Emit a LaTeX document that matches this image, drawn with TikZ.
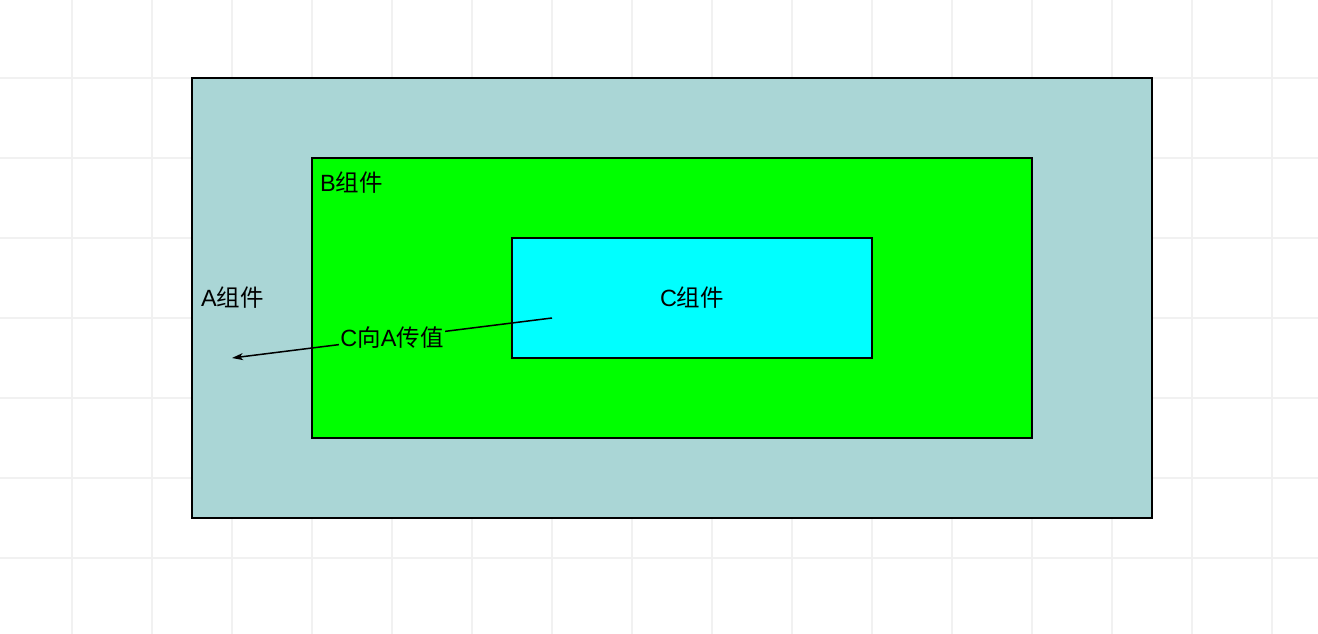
\documentclass[tikz,border=0pt]{standalone}
\usepackage{fontspec}
\setmainfont{Liberation Sans}
\newfontfamily\cjk{Noto Sans CJK SC}
\usetikzlibrary{arrows.meta}
\definecolor{boxA}{RGB}{170,214,214}
\definecolor{boxB}{RGB}{0,255,0}
\definecolor{boxC}{RGB}{0,255,255}
\definecolor{gridc}{RGB}{241,241,241}
\tikzset{
  blk/.style={draw, line width=1.4pt, inner sep=0pt},
  gridln/.style={draw=gridc, line width=1.5pt},
  lbl/.style={font=\fontsize{23.5}{27}\selectfont, inner sep=1pt},
  sig/.style={-{Stealth[length=11pt,width=7pt,inset=3pt]}, line width=1.5pt},
}
\begin{document}
\begin{tikzpicture}[x=1pt,y=-1pt]
  \useasboundingbox (0,0) rectangle (1318,634);
  \fill[white] (0,0) rectangle (1318,634);
  % background grid
  \foreach \gx in {72,152,...,1312} \draw[gridln] (\gx,0) -- (\gx,634);
  \foreach \gy in {78,158,...,634} \draw[gridln] (0,\gy) -- (1318,\gy);
  % nested components
  \node[blk,fill=boxA,minimum width=960pt,minimum height=440pt] (A) at (672,298) {};
  \node[blk,fill=boxB,minimum width=720pt,minimum height=280pt] (B) at (672,298) {};
  \node[blk,fill=boxC,minimum width=360pt,minimum height=120pt] (C) at (692,298) {};
  \node[lbl,anchor=west] (Alab) at (200,298) {A{\cjk 组件}};
  \node[lbl,anchor=west] (Blab) at (319,183) {B{\cjk 组件}};
  \node[lbl] (Clab) at (C.center) {C{\cjk 组件}};
  % value passed up
  \coordinate (src) at (552,318);
  \coordinate (dst) at (232,358);
  \draw[sig] (src) -- node[lbl,fill=boxB,pos=0.5] (pass) {C{\cjk 向}A{\cjk 传值}} (dst);
\end{tikzpicture}
\end{document}
